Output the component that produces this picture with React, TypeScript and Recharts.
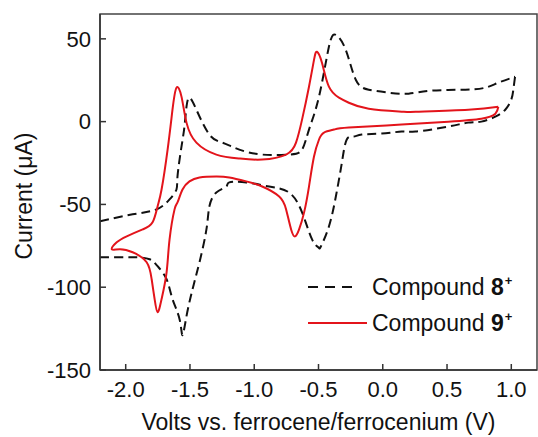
import { LineChart, Line, XAxis, YAxis, ReferenceArea, Legend } from "recharts";

// cyclic voltammograms, values read in sweep order (lower branch right->left, then upper branch back)
// compound 8+: null marks the reversal at -2.2 V, which sits on the axis
const volts8 = [
  1.029, 1.016, 1.0, 0.953, 0.876, 0.767, 0.666, 0.51, 0.255, 0.147, -0.008, -0.163, -0.226, -0.28,
  -0.318, -0.365, -0.419, -0.481, -0.5, -0.55, -0.628, -0.729, -0.884, -1.062, -1.194, -1.217, -1.295,
  -1.349, -1.372, -1.426, -1.48, -1.527, -1.558, -1.581, -1.636, -1.682, -1.752, -1.814, -1.946, -2.147,
  -2.2, -2.2, -2.2, -1.946, -1.76, -1.659, -1.605, -1.597, -1.566, -1.543, -1.527, -1.504, -1.45, -1.349,
  -1.248, -1.116, -0.938, -0.729, -0.628, -0.574, -0.496, -0.419, -0.365, -0.288, -0.21, -0.109, 0.046,
  0.201, 0.379, 0.643, 0.798, 0.899, 1.029,
];
const current8: (number | null)[] = [
  27.1, 19.3, 13.3, 7.2, 3.0, 0, -0.6, -3.0, -6.0, -6.0, -7.2, -7.8, -9.0, -10.8,
  -24.7, -45.2, -63.3, -75.3, -76, -71.1, -54.8, -42.8, -39.2, -36.7, -36.7, -39.2, -42.8,
  -51.2, -65.1, -84.9, -101.2, -117.5, -129, -119.3, -107.2, -95.2, -87.3, -83.1, -81.9, -81.9,
  -81.9, null, -60.2, -56.0, -53.0, -47.0, -41.0, -33.1, -15.1, -3.0, 9.0, 14.5, 7.2, -7.8,
  -12.7, -16.9, -19.9, -19.9, -16.9, -4.8, 15.1, 45.2, 52.4, 43.4, 25.3, 19.3, 17.5,
  16.9, 18.7, 19.3, 20.5, 23.5, 27.1,
];

const volts9 = [
  0.899, 0.876, 0.767, 0.51, 0.147, -0.264, -0.38, -0.457, -0.496, -0.535, -0.574, -0.612, -0.651,
  -0.682, -0.713, -0.752, -0.806, -0.938, -1.062, -1.194, -1.295, -1.426, -1.504, -1.558, -1.597,
  -1.62, -1.659, -1.682, -1.721, -1.752, -1.775, -1.798, -1.837, -1.946, -2.046, -2.108,
  -2.07, -1.992, -1.868, -1.791, -1.752, -1.721, -1.674, -1.636, -1.605, -1.566, -1.527, -1.45,
  -1.295, -1.116, -0.938, -0.752, -0.675, -0.628, -0.574, -0.535, -0.512, -0.473, -0.419, -0.341,
  -0.264, -0.109, 0.147, 0.255, 0.666, 0.899,
];
const current9 = [
  9.0, 4.8, 1.8, 0, -1.8, -3.6, -4.8, -6.6, -10.8, -21.1, -39.2, -54.8, -65.1,
  -69.3, -65.1, -53.0, -45.2, -39.2, -36.1, -33.7, -33.1, -33.7, -36.1, -41.0, -48.8,
  -53.0, -71.3, -91.0, -107.2, -115.1, -107.2, -95.2, -84.9, -78.9, -77.1, -77.1,
  -72.9, -69.3, -65.1, -60.8, -51.2, -41.0, -16.9, 7.2, 20.5, 15.1, -0.6, -12.7,
  -19.9, -22.3, -22.9, -19.9, -12.7, 1.2, 21.1, 37.3, 42.2, 35.5, 21.1, 14.5,
  11.4, 7.8, 6.0, 6.0, 7.2, 9.0,
];

const xTicks = [-2.0, -1.5, -1.0, -0.5, 0.0, 0.5, 1.0];
const yTicks = [-150, -100, -50, 0, 50];

const FONT = '"Liberation Sans", Arial, Helvetica, sans-serif';
const RED = "#e3141b";
const INK = "#111";

const rows8 = volts8.map((v, i) => ({ x: v, y: current8[i] }));
const rows9 = volts9.map((v, i) => ({ x: v, y: current9[i] }));

function CvLegend() {
  const row = { display: "flex", alignItems: "center", height: 36 } as const;
  const sup = { fontSize: 13, fontWeight: 700, verticalAlign: "10px", marginLeft: 1 } as const;
  return (
    <div style={{ fontFamily: FONT, fontSize: 23, color: INK }}>
      <div style={row}>
        <svg width={64} height={10}>
          <line x1={0} y1={5} x2={46} y2={5} stroke={INK} strokeWidth={2} strokeDasharray="10 7" />
        </svg>
        <span>
          Compound <b>8</b>
          <span style={sup}>+</span>
        </span>
      </div>
      <div style={row}>
        <svg width={64} height={10}>
          <line x1={0} y1={5} x2={59} y2={5} stroke={RED} strokeWidth={2} />
        </svg>
        <span>
          Compound <b>9</b>
          <span style={sup}>+</span>
        </span>
      </div>
    </div>
  );
}

export default function App() {
  const tick = { fontSize: 22, fill: INK, fontFamily: FONT };
  return (
    <div style={{ position: "absolute", left: 0, top: 0, width: 538, height: 437, background: "#fff" }}>
      <LineChart width={538} height={437} margin={{ top: 14, right: 1, bottom: 0, left: 0 }}>
        <XAxis
          type="number"
          dataKey="x"
          domain={[-2.2, 1.2]}
          ticks={xTicks}
          tickFormatter={(v: number) => v.toFixed(1)}
          height={67}
          tick={tick}
          tickSize={-6}
          tickMargin={17}
          axisLine={{ stroke: "#333", strokeWidth: 1.5 }}
          tickLine={{ stroke: "#333", strokeWidth: 1.5 }}
          allowDataOverflow
          label={{
            value: "Volts vs. ferrocene/ferrocenium (V)",
            position: "center",
            dy: 18,
            style: { fontSize: 23, fill: INK, fontFamily: FONT },
          }}
        />
        <YAxis
          type="number"
          dataKey="y"
          domain={[-150, 65]}
          ticks={yTicks}
          width={100}
          tick={tick}
          tickSize={-6}
          tickMargin={15}
          axisLine={{ stroke: "#333", strokeWidth: 1.5 }}
          tickLine={{ stroke: "#333", strokeWidth: 1.5 }}
          allowDataOverflow
          label={{
            value: "Current (μA)",
            angle: -90,
            position: "center",
            dx: -26,
            dy: 4,
            style: { fontSize: 23, fill: INK, fontFamily: FONT },
          }}
        />
        <ReferenceArea x1={-2.2} x2={1.2} y1={-150} y2={65} fill="none" stroke="#444" strokeWidth={1.5} />
        <Line
          data={rows8}
          dataKey="y"
          type="natural"
          stroke={INK}
          strokeWidth={2}
          strokeDasharray="9 5"
          dot={false}
          activeDot={false}
          connectNulls={false}
          isAnimationActive={false}
        />
        <Line
          data={rows9}
          dataKey="y"
          type="natural"
          stroke={RED}
          strokeWidth={2}
          dot={false}
          activeDot={false}
          isAnimationActive={false}
        />
        <Legend
          layout="vertical"
          align="center"
          verticalAlign="middle"
          content={() => <CvLegend />}
          wrapperStyle={{ position: "absolute", left: 308, top: 269, width: 230 }}
        />
      </LineChart>
    </div>
  );
}
